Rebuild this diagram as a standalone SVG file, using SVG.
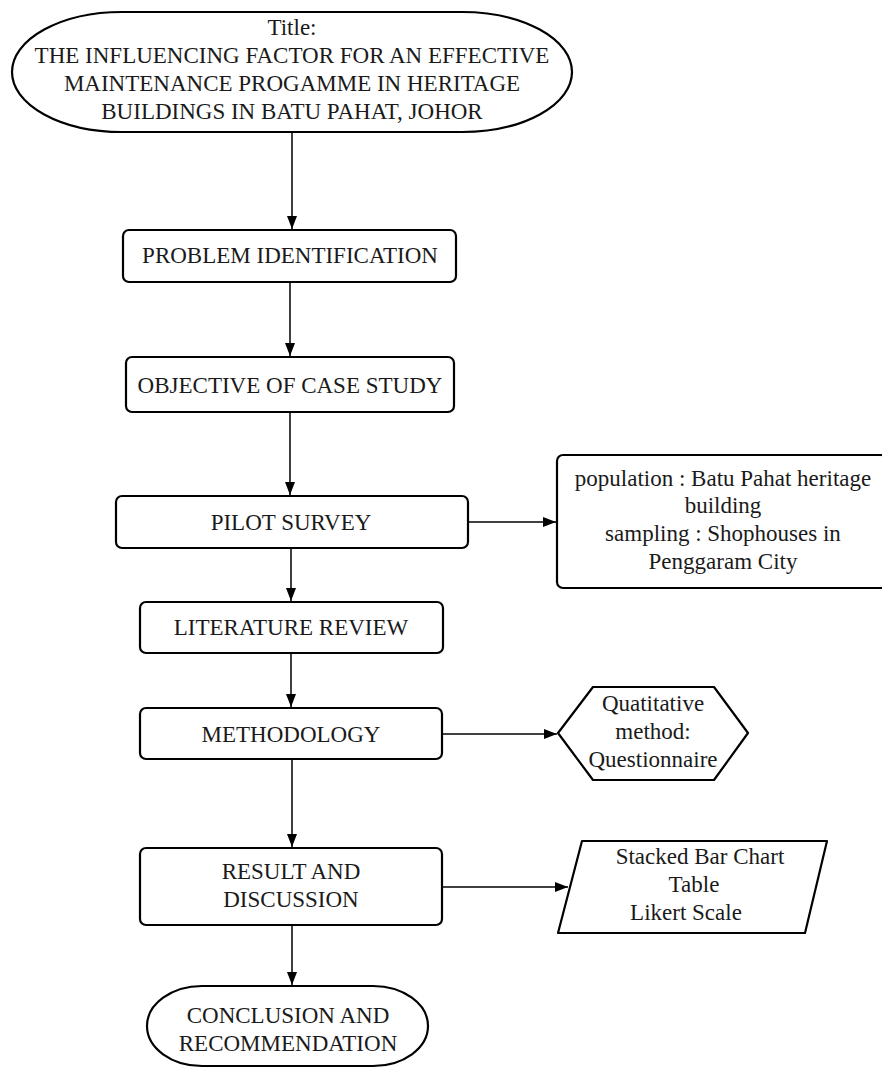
<svg xmlns="http://www.w3.org/2000/svg" width="882" height="1070" viewBox="0 0 882 1070">
<defs>
<marker id="arr" markerUnits="userSpaceOnUse" markerWidth="14" markerHeight="12" refX="13" refY="5" orient="auto">
<path d="M0,0 L13,5 L0,10 Z" fill="#000"/>
</marker>
<style>
.s{fill:#fff;stroke:#000;stroke-width:2.2;stroke-linejoin:round}
.t{font-family:'Liberation Serif','DejaVu Serif',serif;font-size:23px;fill:#1a1a1a;text-anchor:middle}
.c{fill:none;stroke:#000;stroke-width:1.5}
</style>
</defs>
<rect width="882" height="1070" fill="#fff"/>
<g id="connectors">
<line class="c" x1="292" y1="132" x2="292" y2="229" marker-end="url(#arr)"/>
<line class="c" x1="290" y1="282" x2="290" y2="356" marker-end="url(#arr)"/>
<line class="c" x1="290" y1="412" x2="290" y2="495" marker-end="url(#arr)"/>
<line class="c" x1="468" y1="522" x2="556" y2="522" marker-end="url(#arr)"/>
<line class="c" x1="291" y1="548" x2="291" y2="601" marker-end="url(#arr)"/>
<line class="c" x1="291" y1="653" x2="291" y2="707" marker-end="url(#arr)"/>
<line class="c" x1="442" y1="734" x2="557" y2="734" marker-end="url(#arr)"/>
<line class="c" x1="292" y1="759" x2="292" y2="847" marker-end="url(#arr)"/>
<line class="c" x1="442" y1="887" x2="568" y2="887" marker-end="url(#arr)"/>
<line class="c" x1="292" y1="925" x2="292" y2="985" marker-end="url(#arr)"/>
</g>
<g font-family="Liberation Serif, DejaVu Serif, serif">
<g id="title">
<rect class="s" x="12" y="12" width="560" height="120" rx="110" ry="60"/>
<text class="t" x="292" y="35">Title:</text>
<text class="t" x="292" y="63">THE INFLUENCING FACTOR FOR AN EFFECTIVE</text>
<text class="t" x="292" y="91">MAINTENANCE PROGAMME IN HERITAGE</text>
<text class="t" x="292" y="119">BUILDINGS IN BATU PAHAT, JOHOR</text>
</g>
<g id="problem">
<rect class="s" x="123" y="230" width="333" height="52" rx="6"/>
<text class="t" x="290" y="263">PROBLEM IDENTIFICATION</text>
</g>
<g id="objective">
<rect class="s" x="126" y="357" width="328" height="55" rx="6"/>
<text class="t" x="290" y="393">OBJECTIVE OF CASE STUDY</text>
</g>
<g id="pilot">
<rect class="s" x="116" y="496" width="352" height="52" rx="6"/>
<text class="t" x="291" y="530">PILOT SURVEY</text>
</g>
<g id="population">
<rect class="s" x="557" y="455" width="330" height="133" rx="6"/>
<text class="t" x="723" y="486">population : Batu Pahat heritage</text>
<text class="t" x="723" y="513">building</text>
<text class="t" x="723" y="541">sampling : Shophouses in</text>
<text class="t" x="723" y="569">Penggaram City</text>
</g>
<g id="literature">
<rect class="s" x="140" y="602" width="303" height="51" rx="6"/>
<text class="t" x="291" y="635">LITERATURE REVIEW</text>
</g>
<g id="methodology">
<rect class="s" x="140" y="708" width="302" height="51" rx="6"/>
<text class="t" x="291" y="742">METHODOLOGY</text>
</g>
<g id="quantitative">
<path class="s" d="M558,733 L593,687 L714,687 L748,733 L714,780 L593,780 Z"/>
<text class="t" x="653" y="711">Quatitative</text>
<text class="t" x="653" y="739">method:</text>
<text class="t" x="653" y="767">Questionnaire</text>
</g>
<g id="result">
<rect class="s" x="140" y="848" width="302" height="77" rx="6"/>
<text class="t" x="291" y="879">RESULT AND</text>
<text class="t" x="291" y="907">DISCUSSION</text>
</g>
<g id="output">
<path class="s" d="M582,841 L827,841 L805,933 L558,933 Z"/>
<text class="t" x="700" y="864">Stacked Bar Chart</text>
<text class="t" x="694" y="892">Table</text>
<text class="t" x="686" y="920">Likert Scale</text>
</g>
<g id="conclusion">
<rect class="s" x="147" y="986" width="281" height="80" rx="55" ry="40"/>
<text class="t" x="288" y="1023">CONCLUSION AND</text>
<text class="t" x="288" y="1051">RECOMMENDATION</text>
</g>
</g>
</svg>
